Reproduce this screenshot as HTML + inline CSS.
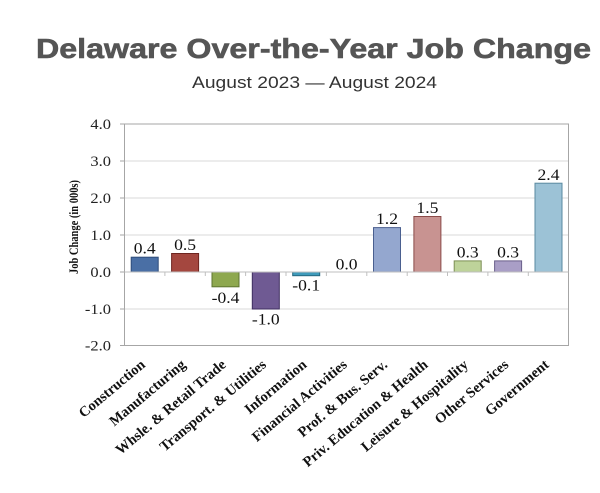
<!DOCTYPE html>
<html>
<head>
<meta charset="utf-8">
<style>
  html, body { margin: 0; padding: 0; background: #ffffff; }
  svg { display: block; }
</style>
</head>
<body>
<svg width="600" height="493" viewBox="0 0 600 493" xmlns="http://www.w3.org/2000/svg">
  <rect x="0" y="0" width="600" height="493" fill="#ffffff"/>

  <!-- Title -->
  <text x="36" y="58" font-family="Liberation Sans, sans-serif" font-weight="bold" font-size="28" fill="#555555" stroke="#555555" stroke-width="0.6" textLength="555" lengthAdjust="spacingAndGlyphs">Delaware Over-the-Year Job Change</text>
  <text x="192" y="88" font-family="Liberation Sans, sans-serif" font-size="16.5" fill="#333333" textLength="245" lengthAdjust="spacingAndGlyphs">August 2023 — August 2024</text>

  <!-- Gridlines -->
  <g stroke="#d9d9d9" stroke-width="1">
    <line x1="124.5" y1="161" x2="568.5" y2="161"/>
    <line x1="124.5" y1="198" x2="568.5" y2="198"/>
    <line x1="124.5" y1="235" x2="568.5" y2="235"/>
    <line x1="124.5" y1="309" x2="568.5" y2="309"/>
  </g>

  <!-- Plot frame -->
  <rect x="124.5" y="124" width="444" height="221.5" fill="none" stroke="#a6a6a6" stroke-width="1"/>

  <!-- Left axis ticks -->
  <g stroke="#a6a6a6" stroke-width="1">
    <line x1="120" y1="124" x2="124.5" y2="124"/>
    <line x1="120" y1="161" x2="124.5" y2="161"/>
    <line x1="120" y1="198" x2="124.5" y2="198"/>
    <line x1="120" y1="235" x2="124.5" y2="235"/>
    <line x1="120" y1="272" x2="124.5" y2="272"/>
    <line x1="120" y1="309" x2="124.5" y2="309"/>
    <line x1="120" y1="345.5" x2="124.5" y2="345.5"/>
  </g>

  <!-- Y tick labels -->
  <g font-family="Liberation Serif, serif" font-size="15" fill="#222222" text-anchor="end">
    <text transform="translate(111,129) scale(1.1,1)">4.0</text>
    <text transform="translate(111,166) scale(1.1,1)">3.0</text>
    <text transform="translate(111,203) scale(1.1,1)">2.0</text>
    <text transform="translate(111,240) scale(1.1,1)">1.0</text>
    <text transform="translate(111,277) scale(1.1,1)">0.0</text>
    <text transform="translate(111,314) scale(1.1,1)">-1.0</text>
    <text transform="translate(111,350.5) scale(1.1,1)">-2.0</text>
  </g>

  <!-- Y axis title -->
  <text transform="translate(78,227) rotate(-90)" font-family="Liberation Serif, serif" font-weight="bold" font-size="12.5" fill="#111111" text-anchor="middle" textLength="94" lengthAdjust="spacingAndGlyphs">Job Change (in 000s)</text>

  <!-- Bars -->
  <g stroke-width="1">
    <rect x="131.2" y="257.2" width="27" height="14.8" fill="#4a6fa5" stroke="#2f4d7a"/>
    <rect x="171.6" y="253.5" width="27" height="18.5" fill="#a4473f" stroke="#6e2520"/>
    <rect x="212.0" y="272" width="27" height="14.8" fill="#8ea84f" stroke="#5e7430"/>
    <rect x="252.3" y="272" width="27" height="37" fill="#6f5a93" stroke="#3f2f60"/>
    <rect x="292.7" y="272" width="27" height="3.7" fill="#3f9bbb" stroke="#24687f"/>
    <rect x="373.5" y="227.6" width="27" height="44.4" fill="#94a7cf" stroke="#4a5f8f"/>
    <rect x="413.9" y="216.5" width="27" height="55.5" fill="#c89391" stroke="#8a4a48"/>
    <rect x="454.2" y="260.9" width="27" height="11.1" fill="#bed39a" stroke="#7c8f55"/>
    <rect x="494.6" y="260.9" width="27" height="11.1" fill="#a99ec6" stroke="#6a5f8a"/>
    <rect x="535.0" y="183.2" width="27" height="88.8" fill="#9cc2d6" stroke="#5a8aa0"/>
  </g>

  <!-- Zero line + ticks -->
  <line x1="124.5" y1="272" x2="568.5" y2="272" stroke="#bfbfbf" stroke-width="1"/>
  <g stroke="#bfbfbf" stroke-width="1">
    <line x1="164.9" y1="272" x2="164.9" y2="276"/>
    <line x1="205.3" y1="272" x2="205.3" y2="276"/>
    <line x1="245.6" y1="272" x2="245.6" y2="276"/>
    <line x1="286.0" y1="272" x2="286.0" y2="276"/>
    <line x1="326.4" y1="272" x2="326.4" y2="276"/>
    <line x1="366.8" y1="272" x2="366.8" y2="276"/>
    <line x1="407.2" y1="272" x2="407.2" y2="276"/>
    <line x1="447.5" y1="272" x2="447.5" y2="276"/>
    <line x1="487.9" y1="272" x2="487.9" y2="276"/>
    <line x1="528.3" y1="272" x2="528.3" y2="276"/>
  </g>

  <!-- Data labels -->
  <g font-family="Liberation Serif, serif" font-size="16" fill="#111111" text-anchor="middle">
    <text transform="translate(144.7,253.5) scale(1.1,1)">0.4</text>
    <text transform="translate(185.1,250) scale(1.1,1)">0.5</text>
    <text transform="translate(225.5,303) scale(1.1,1)">-0.4</text>
    <text transform="translate(265.8,324.5) scale(1.1,1)">-1.0</text>
    <text transform="translate(306.2,290.5) scale(1.1,1)">-0.1</text>
    <text transform="translate(346.6,269.5) scale(1.1,1)">0.0</text>
    <text transform="translate(387.0,224) scale(1.1,1)">1.2</text>
    <text transform="translate(427.4,213) scale(1.1,1)">1.5</text>
    <text transform="translate(467.7,257.5) scale(1.1,1)">0.3</text>
    <text transform="translate(508.1,257.5) scale(1.1,1)">0.3</text>
    <text transform="translate(548.5,180) scale(1.1,1)">2.4</text>
  </g>

  <!-- X category labels -->
  <g font-family="Liberation Serif, serif" font-weight="bold" font-size="14.5" fill="#111111" text-anchor="end">
    <text transform="translate(146,366) rotate(-40)">Construction</text>
    <text transform="translate(186.4,366) rotate(-40)">Manufacturing</text>
    <text transform="translate(226.8,366) rotate(-40)">Whsle. &amp; Retail Trade</text>
    <text transform="translate(267.1,366) rotate(-40)">Transport. &amp; Utilities</text>
    <text transform="translate(307.5,366) rotate(-40)">Information</text>
    <text transform="translate(347.9,366) rotate(-40)">Financial Activities</text>
    <text transform="translate(388.3,366) rotate(-40)">Prof. &amp; Bus. Serv.</text>
    <text transform="translate(428.7,366) rotate(-40)">Priv. Education &amp; Health</text>
    <text transform="translate(469.0,366) rotate(-40)">Leisure &amp; Hospitality</text>
    <text transform="translate(509.4,366) rotate(-40)">Other Services</text>
    <text transform="translate(549.8,366) rotate(-40)">Government</text>
  </g>
</svg>
</body>
</html>
